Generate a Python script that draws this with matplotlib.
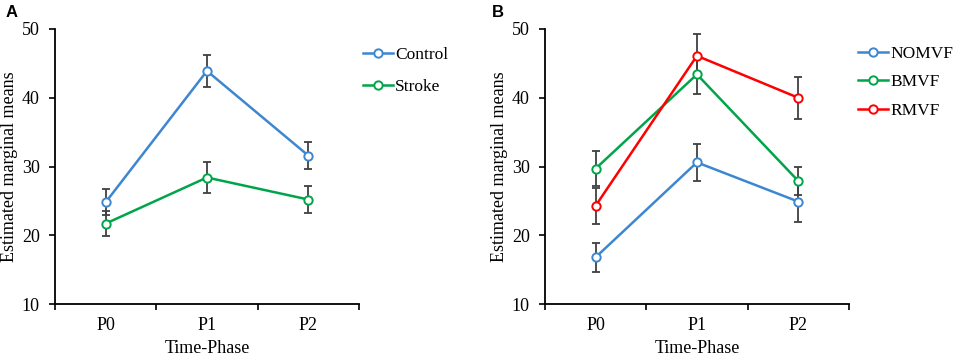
import numpy as np
import matplotlib
matplotlib.use('Agg')
import matplotlib.pyplot as plt

plt.rcParams['font.family'] = ['Liberation Serif', 'DejaVu Serif']

phases = ['P0', 'P1', 'P2']

# panel A
groups_a = ['Control', 'Stroke']
control_mean = [24.8, 43.9, 31.6]
control_err = [1.9, 2.3, 2.0]
stroke_mean = [21.7, 28.4, 25.2]
stroke_err = [1.8, 2.3, 2.0]

# panel B
groups_b = ['NOMVF', 'BMVF', 'RMVF']
nomvf_mean = [16.8, 30.6, 24.9]
nomvf_err = [2.1, 2.65, 2.9]
bmvf_mean = [29.7, 43.4, 27.9]
bmvf_err = [2.55, 2.8, 2.0]
rmvf_mean = [24.3, 46.1, 40.0]
rmvf_err = [2.6, 3.1, 3.05]

blue = '#3D87D0'
green = '#00A54A'
red = '#FF0000'

fig = plt.figure(figsize=(9.57, 3.58), dpi=100)
axA = fig.add_axes([0.0575, 0.1508, 0.3175, 0.7682])
axB = fig.add_axes([0.5695, 0.1508, 0.3175, 0.7682])


def draw(ax, means, errs, colors, names, leg_x, leg_y, spacing):
    x = np.arange(len(phases))
    for m, e, c, n in zip(means, errs, colors, names):
        ax.errorbar(x, m, yerr=e, fmt='none', ecolor='#404040', elinewidth=1.3,
                    capsize=3.2, capthick=1.3, zorder=2)
        ax.plot(x, m, color=c, lw=1.8, marker='o', ms=6, mfc='white',
                mec=c, mew=1.4, label=n, zorder=3)
    ax.set_xlim(-0.5, 2.5)
    ax.set_ylim(10, 50)
    ax.set_yticks([10, 20, 30, 40, 50])
    ax.set_xticks([-0.5, 0.5, 1.5, 2.5])
    ax.set_xticklabels([])
    ax.set_xticks(x, minor=True)
    ax.set_xticklabels(phases, minor=True, fontsize=13)
    ax.tick_params(axis='x', which='minor', length=0, pad=9)
    ax.tick_params(axis='x', which='major', length=4, width=1.2, direction='out')
    ax.tick_params(axis='y', length=4, width=1.2, direction='out', labelsize=13, pad=7)
    for s in ['top', 'right']:
        ax.spines[s].set_visible(False)
    for s in ['left', 'bottom']:
        ax.spines[s].set_linewidth(1.3)
    ax.set_xlabel('Time-Phase', fontsize=13, labelpad=5)
    ax.set_ylabel('Estimated marginal means', fontsize=13, labelpad=3)
    ax.legend(loc='upper left', bbox_to_anchor=(leg_x, leg_y), frameon=False,
              fontsize=12.5, handlelength=1.75, handletextpad=0.1,
              labelspacing=spacing, borderaxespad=0, borderpad=0)


draw(axA, [control_mean, stroke_mean], [control_err, stroke_err],
     [blue, green], groups_a, 1.013, 0.935, 0.9)
draw(axB, [nomvf_mean, bmvf_mean, rmvf_mean], [nomvf_err, bmvf_err, rmvf_err],
     [blue, green, red], groups_b, 1.03, 0.94, 0.72)

fig.text(0.006, 0.985, 'A', fontsize=12, fontweight='bold', va='top',
         family=['Liberation Sans', 'DejaVu Sans'])
fig.text(0.514, 0.985, 'B', fontsize=12, fontweight='bold', va='top',
         family=['Liberation Sans', 'DejaVu Sans'])

fig.savefig('out.png', dpi=100)
